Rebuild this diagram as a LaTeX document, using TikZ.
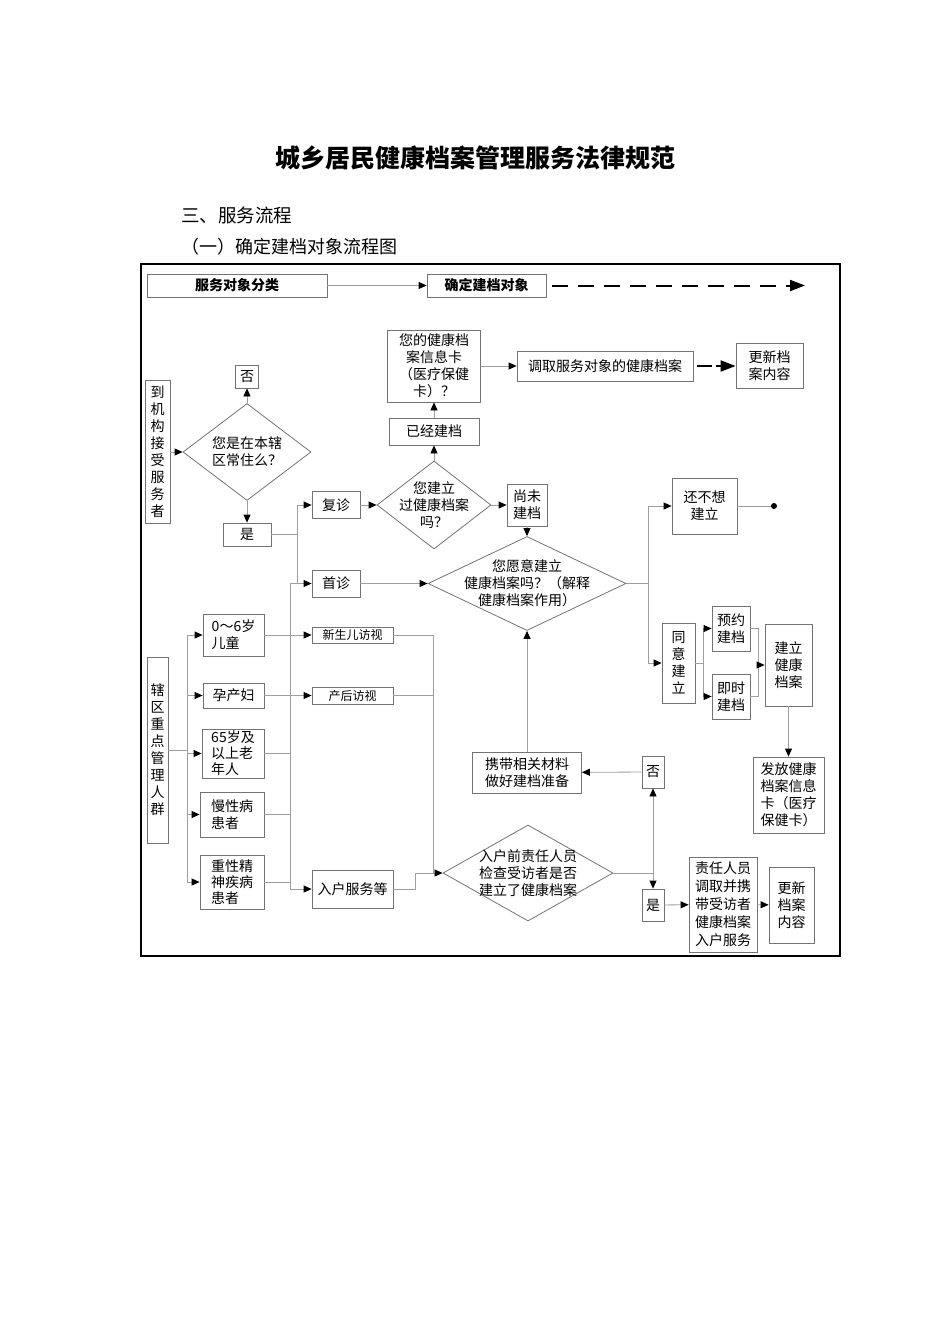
\documentclass[tikz,border=0pt]{standalone}
\usepackage{fontspec}
\setmainfont{Noto Sans CJK SC}
\usepackage{tikz}
\usetikzlibrary{arrows.meta,shapes.geometric}
\definecolor{boxline}{gray}{0.45}
\definecolor{conn}{gray}{0.62}
\newcommand\flowfont{\fontsize{14}{17}\selectfont}
\newcommand\smallflowfont{\fontsize{12}{14}\selectfont}
\tikzset{
  flow box/.style={draw=boxline,line width=0.8pt,inner sep=0pt,align=center,font=\flowfont},
  flow dia/.style={draw=boxline,line width=0.8pt,diamond,inner sep=0pt},
  flow text/.style={inner sep=0pt,align=center,font=\flowfont},
  flow line/.style={draw=conn,line width=0.8pt},
  flow arrow/.style={flow line,-{Triangle[length=8pt,width=7pt,color=black]}},
  heavy arrow/.style={line width=2pt,-{Triangle[length=15pt,width=11pt]}},
}

\begin{document}
\begin{tikzpicture}[x=1pt,y=-1pt]
\useasboundingbox (0,0) rectangle (950,1344);
% 标题
\node[font=\fontsize{25}{30}\selectfont\bfseries] (title) at (475,158) {城乡居民健康档案管理服务法律规范};
\node[anchor=west,inner sep=0pt,font=\fontsize{18.5}{22}\selectfont] (sec) at (181,215) {三、服务流程};
\node[anchor=west,inner sep=0pt,font=\fontsize{18}{22}\selectfont] (sub) at (181,247) {（一）确定建档对象流程图};
% 外框
\draw[line width=1.2pt] (141,264) rectangle (840,956);
% 顶部
\node[flow box,font=\flowfont\bfseries,minimum width=180,minimum height=23] (cls) at (237,285.5) {服务对象分类};
\node[flow box,font=\flowfont\bfseries,minimum width=119,minimum height=23] (obj) at (486.5,285.5) {确定建档对象};
\coordinate (dashEnd) at (805,285.5);
% 到机构接受服务者
\node[flow box,minimum width=25,minimum height=143] (visit) at (157.5,452) {到\\机\\构\\接\\受\\服\\务\\者};
\node[flow box,minimum width=23,minimum height=23] (no1) at (247,376.5) {否};
\node[flow dia,minimum width=128,minimum height=97] (q1) at (247,452) {};
\node[flow text] at (q1) {您是在本辖\\区常住么？};
\node[flow box,minimum width=48,minimum height=23] (yes1) at (247,534.5) {是};
\node[flow box,minimum width=48,minimum height=27] (revisit) at (336,505) {复诊};
\node[flow box,minimum width=48,minimum height=27] (first) at (336,583.5) {首诊};
\node[flow dia,minimum width=114,minimum height=88] (q2) at (434,505) {};
\node[flow text] at (q2) {您建立\\过健康档案\\吗？};
\node[flow box,minimum width=90,minimum height=27] (built) at (434,431.5) {已经建档};
\node[flow box,minimum width=93,minimum height=72] (card) at (434,366) {您的健康档\\案信息卡\\（医疗保健\\卡）？};
\node[flow box,minimum width=176,minimum height=30] (fetch) at (605,366) {调取服务对象的健康档案};
\node[flow box,minimum width=67,minimum height=45] (upd1) at (769.5,366) {更新档\\案内容};
\node[flow box,minimum width=40,minimum height=42] (notyet) at (527,505) {尚未\\建档};
\node[flow dia,minimum width=198,minimum height=94] (q3) at (527,583.5) {};
\node[flow text] at (q3) {您愿意建立\\健康档案吗？（解释\\健康档案作用）};
\node[flow box,minimum width=65,minimum height=56] (refuse) at (704.5,506) {还不想\\建立};
\coordinate (stop) at (774,506);
\node[flow box,minimum width=33,minimum height=80] (agree) at (678.5,663) {同\\意\\建\\立};
\node[flow box,minimum width=38,minimum height=45] (book) at (731,628.5) {预约\\建档};
\node[flow box,minimum width=38,minimum height=45] (now) at (731,696.5) {即时\\建档};
\node[flow box,minimum width=47,minimum height=82] (setup) at (788.5,665) {建立\\健康\\档案};
\node[flow box,align=left,minimum width=71,minimum height=76] (issue) at (788.5,795) {发放健康\\档案信息\\卡（医疗\\保健卡）};
% 辖区重点管理人群
\node[flow box,minimum width=21,minimum height=186] (key) at (157.5,750) {辖\\区\\重\\点\\管\\理\\人\\群};
\node[flow box,align=left,minimum width=61,minimum height=42] (kid) at (233.5,635) {0～6岁\\儿童};
\node[flow box,align=left,minimum width=61,minimum height=25] (preg) at (233.5,695.5) {孕产妇};
\node[flow box,align=left,minimum width=62,minimum height=49,font=\fontsize{14}{16}\selectfont] (old) at (233,753.5) {65岁及\\以上老\\年人};
\node[flow box,align=left,minimum width=64,minimum height=45] (chronic) at (232,814.5) {慢性病\\患者};
\node[flow box,align=left,minimum width=64,minimum height=54,font=\fontsize{14}{16}\selectfont] (mental) at (232,882) {重性精\\神疾病\\患者};
\node[flow box,font=\smallflowfont,minimum width=81,minimum height=16] (newborn) at (352.5,635) {新生儿访视};
\node[flow box,font=\smallflowfont,minimum width=81,minimum height=17] (postnatal) at (352.5,695.5) {产后访视};
\node[flow box,minimum width=81,minimum height=38] (home) at (352.5,889) {入户服务等};
\node[flow dia,minimum width=170,minimum height=96] (q4) at (528,873) {};
\node[flow text] at (q4) {入户前责任人员\\检查受访者是否\\建立了健康档案};
\node[flow box,minimum width=109,minimum height=41] (prep) at (527,772.5) {携带相关材料\\做好建档准备};
\node[flow box,minimum width=22,minimum height=32] (no2) at (653,772) {否};
\node[flow box,minimum width=22,minimum height=32] (yes2) at (653,905) {是};
\node[flow box,minimum width=68,minimum height=95,font=\fontsize{14}{18}\selectfont] (staff) at (723,904.5) {责任人员\\调取并携\\带受访者\\健康档案\\入户服务};
\node[flow box,minimum width=45,minimum height=76] (upd2) at (791.5,905) {更新\\档案\\内容};
% 分叉点
\coordinate (jy) at (297,534.5);
\coordinate (jk) at (187,750);
\coordinate (jt) at (290,583.5);
\coordinate (jv) at (433,873);
\coordinate (jh) at (415,873);
\coordinate (jq3) at (648,583.5);
\coordinate (ja) at (703,663);
\coordinate (jb) at (758,665);
\coordinate (jq4) at (653,873);
% 连线
\draw[flow arrow] (cls) -- (obj);
\draw[heavy arrow,dash pattern=on 16pt off 10pt,shorten <=6pt] (obj) -- (dashEnd);
\draw[flow arrow] (visit) -- (q1);
\draw[flow arrow] (q1) -- (no1);
\draw[flow arrow] (q1) -- (yes1);
\draw[flow line] (yes1) -- (jy);
\draw[flow arrow] (jy) |- (revisit);
\draw[flow line] (jy) -- (jy |- first);
\draw[flow arrow] (revisit) -- (q2);
\draw[flow arrow] (q2) -- (built);
\draw[flow arrow] (built) -- (card);
\draw[flow arrow] (card) -- (fetch);
\draw[heavy arrow,dash pattern=on 15pt off 4pt,shorten <=4pt] (fetch) -- (upd1);
\draw[flow arrow] (q2) -- (notyet);
\draw[flow arrow] (notyet) -- (q3);
\draw[flow arrow] (first) -- (q3);
\draw[flow line] (q3) -- (jq3);
\draw[flow arrow] (jq3) |- (refuse);
\draw[flow arrow] (jq3) |- (agree);
\draw[flow line] (refuse) -- (stop);
\fill (stop) circle (3);
\draw[flow line] (agree) -- (ja);
\draw[flow arrow] (ja) |- (book);
\draw[flow arrow] (ja) |- (now);
\draw[flow line] (book) -| (jb);
\draw[flow line] (now) -| (jb);
\draw[flow arrow] (jb) -- (setup);
\draw[flow arrow] (setup) -- (issue);
\draw[flow line] (key) -- (jk);
\draw[flow line] (jk |- kid) -- (jk |- mental);
\foreach \n in {kid,preg,old,chronic,mental}
  \draw[flow arrow] (jk |- \n) -- (\n);
\draw[flow arrow] (kid) -- (newborn);
\draw[flow arrow] (preg) -- (postnatal);
\foreach \n in {old,chronic,mental}
  \draw[flow line] (\n) -- (jt |- \n);
\draw[flow arrow] (jt) -- (first);
\draw[flow arrow] (jt) |- (home);
\draw[flow line] (newborn) -| (jv);
\draw[flow line] (postnatal) -- (jv |- postnatal);
\draw[flow line] (home) -| (jh);
\draw[flow arrow] (jh) -- (q4);
\draw[flow line] (q4) -- (jq4);
\draw[flow arrow] (jq4) -- (no2);
\draw[flow arrow] (jq4) -- (yes2);
\draw[flow arrow] (no2) -- (prep);
\draw[flow arrow] (prep) -- (q3);
\draw[flow arrow] (yes2) -- (staff);
\draw[flow arrow] (staff) -- (upd2);
\end{tikzpicture}
\end{document}
